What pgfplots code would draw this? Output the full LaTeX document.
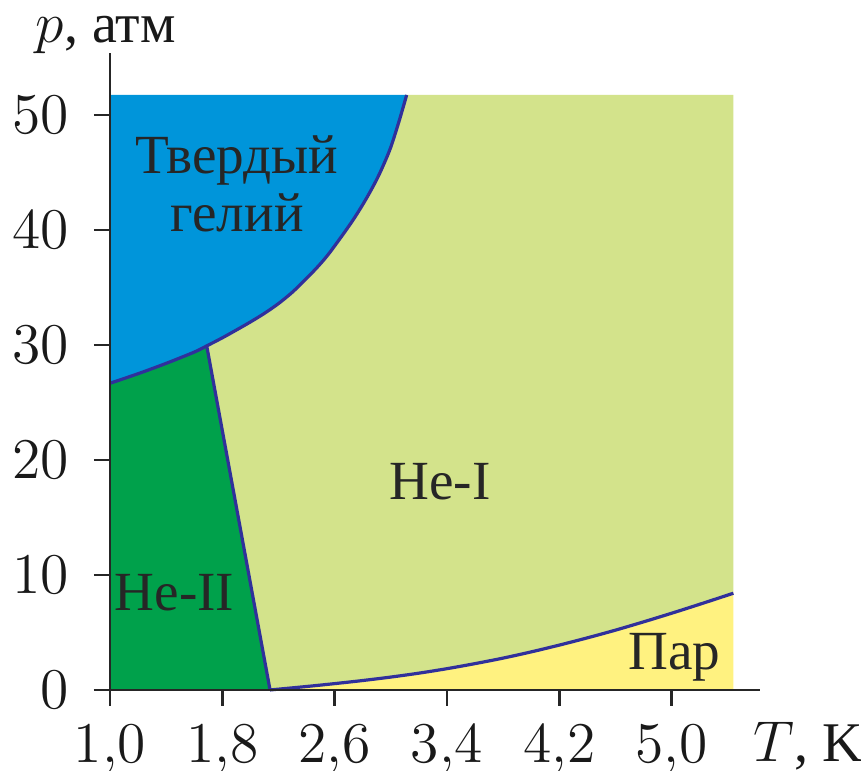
\documentclass[border=0pt]{standalone}
\usepackage{pgfplots}
\pgfplotsset{compat=1.18}
\usepackage{fontspec}
\setmainfont{Liberation Serif}
\definecolor{solidc}{RGB}{0,149,218}
\definecolor{heii}{RGB}{0,161,75}
\definecolor{hei}{RGB}{211,227,139}
\definecolor{vapc}{RGB}{255,242,128}
\definecolor{curvec}{RGB}{48,48,155}
\begin{document}
\fontsize{14}{17}\selectfont
\begin{tikzpicture}
\begin{axis}[
  scale only axis, width=162.5pt, height=159.25pt,
  xmin=1, xmax=5.63, ymin=0, ymax=55.4,
  axis lines=left,
  axis line style={-, line width=0.7pt, black!85, shorten <=-4pt},
  tick align=outside, major tick length=4pt,
  tick style={line width=0.7pt, black!85},
  xtick={1,1.8,2.6,3.4,4.2,5.0},
  xticklabels={$1{,}0$,$1{,}8$,$2{,}6$,$3{,}4$,$4{,}2$,$5{,}0$},
  ytick={0,10,20,30,40,50},
  ticklabel style={font=\fontsize{14}{17}\selectfont, text=black!90},
  yticklabel style={xshift=-1.5pt},
  clip=false, axis on top,
]
% solid helium
\addplot[draw=none, fill=solidc] coordinates {
 (1.0,26.67) (1.2,27.5) (1.4,28.4) (1.6,29.38) (1.689,29.92) (1.8,30.62) (1.9,31.3) (2.0,32.0)
 (2.1,32.75) (2.2,33.6) (2.3,34.6) (2.4,35.8) (2.472,36.7) (2.55,37.8) (2.65,39.45)
 (2.733,40.9) (2.8,42.2) (2.852,43.3) (2.9,44.4) (2.946,45.6) (3.0,47.2) (3.06,49.5) (3.113,51.74)
 (1.0,51.74)} -- cycle;
% He-II
\addplot[draw=none, fill=heii] coordinates {
 (1.0,0) (2.14,0) (1.689,29.92) (1.6,29.38) (1.4,28.4) (1.2,27.5) (1.0,26.67)} -- cycle;
% He-I
\addplot[draw=none, fill=hei] coordinates {
 (2.14,0) (2.4,0.30) (2.6,0.55) (2.8,0.82) (3.0,1.12) (3.2,1.46) (3.4,1.85) (3.6,2.29)
 (3.8,2.77) (4.0,3.31) (4.2,3.9) (4.4,4.53) (4.6,5.2) (4.8,5.92) (5.0,6.67) (5.2,7.45) (5.44,8.41)
 (5.44,51.74) (3.113,51.74) (3.06,49.5) (3.0,47.2) (2.946,45.6) (2.9,44.4) (2.852,43.3) (2.8,42.2)
 (2.733,40.9) (2.65,39.45) (2.55,37.8) (2.472,36.7) (2.4,35.8) (2.3,34.6) (2.2,33.6) (2.1,32.75)
 (2.0,32.0) (1.9,31.3) (1.8,30.62) (1.689,29.92)} -- cycle;
% vapour
\addplot[draw=none, fill=vapc] coordinates {
 (2.14,0) (2.4,0.30) (2.6,0.55) (2.8,0.82) (3.0,1.12) (3.2,1.46) (3.4,1.85) (3.6,2.29)
 (3.8,2.77) (4.0,3.31) (4.2,3.9) (4.4,4.53) (4.6,5.2) (4.8,5.92) (5.0,6.67) (5.2,7.45) (5.44,8.41)
 (5.44,0)} -- cycle;
% boundaries
\addplot[curvec, line width=0.8pt, smooth, tension=0.5] coordinates {
 (1.0,26.67) (1.2,27.5) (1.4,28.4) (1.6,29.38) (1.689,29.92) (1.8,30.62) (1.9,31.3) (2.0,32.0)
 (2.1,32.75) (2.2,33.6) (2.3,34.6) (2.4,35.8) (2.472,36.7) (2.55,37.8) (2.65,39.45)
 (2.733,40.9) (2.8,42.2) (2.852,43.3) (2.9,44.4) (2.946,45.6) (3.0,47.2) (3.06,49.5) (3.113,51.74)};
\addplot[curvec, line width=0.8pt] coordinates {(1.689,29.92) (2.14,0)};
\addplot[curvec, line width=0.8pt, smooth, tension=0.5] coordinates {
 (2.14,0) (2.4,0.30) (2.6,0.55) (2.8,0.82) (3.0,1.12) (3.2,1.46) (3.4,1.85) (3.6,2.29)
 (3.8,2.77) (4.0,3.31) (4.2,3.9) (4.4,4.53) (4.6,5.2) (4.8,5.92) (5.0,6.67) (5.2,7.45) (5.44,8.41)};
% region labels
\node[align=center, font=\fontsize{13.8}{14.5}\selectfont, text=black!85] at (axis cs:1.905,44) {Твердый\\гелий};
\node[font=\fontsize{13.8}{17}\selectfont, text=black!85] at (axis cs:1.46,8.5) {He-II};
\node[font=\fontsize{13.8}{17}\selectfont, text=black!85] at (axis cs:3.35,18.1) {He-I};
\node[font=\fontsize{13.8}{17}\selectfont, text=black!85] at (axis cs:5.02,2.8) {Пар};
% axis labels
\node[anchor=base west, inner sep=0pt, text=black!90] at (axis cs:0.466,56.3) {$p$, атм};
\node[anchor=base west, inner sep=0pt, text=black!90] at (axis cs:5.58,-6.26) {$T$, K};
\coordinate (bl) at (axis cs:0.2165,-7.043);
\coordinate (tr) at (axis cs:6.349,60);
\end{axis}
\pgfresetboundingbox
\path[use as bounding box] (bl) rectangle (tr);
\end{tikzpicture}
\end{document}
